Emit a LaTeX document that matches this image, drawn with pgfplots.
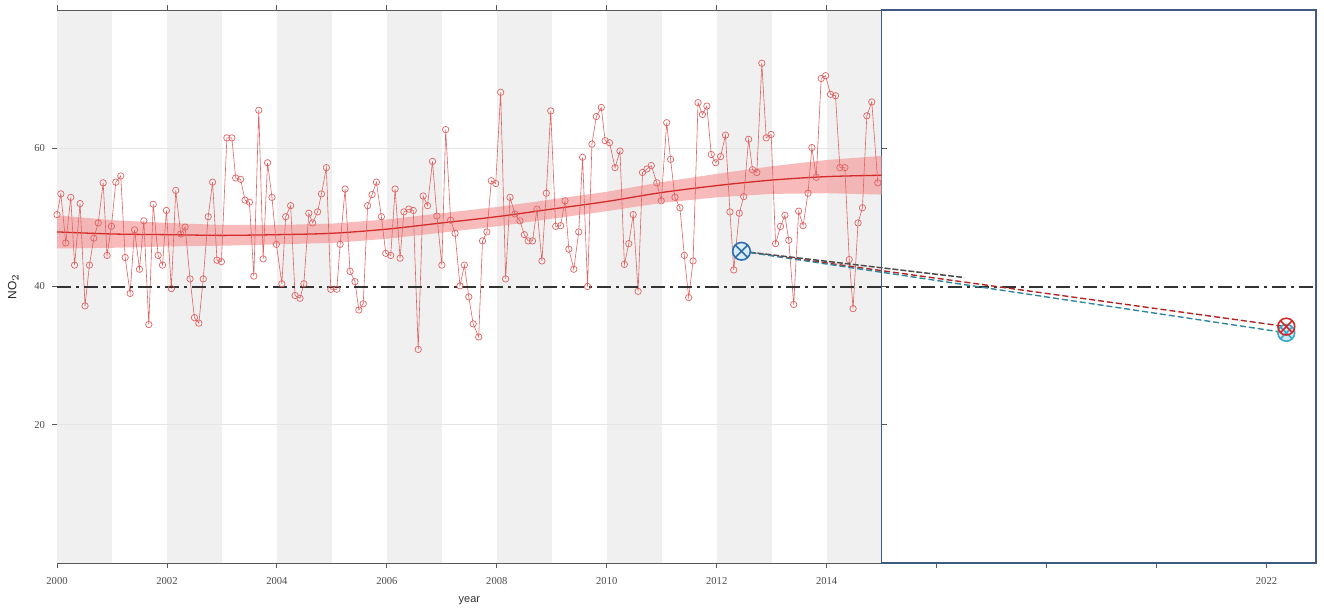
\documentclass[border=0pt]{standalone}
\usepackage{pgfplots}
\pgfplotsset{compat=1.18}
\usepackage{pgfplotstable}
\usepackage{fontspec}
\setmainfont{Liberation Serif}
\newfontfamily\labelfont{Liberation Sans}
\definecolor{bandgray}{HTML}{F0F0F0}
\definecolor{datared}{HTML}{E06262}
\definecolor{trendred}{HTML}{D42A2A}
\definecolor{bandpink}{HTML}{F5A3A3}
\definecolor{panelblue}{HTML}{3E5A80}
\definecolor{markblue}{HTML}{2F6FB0}
\definecolor{markcyan}{HTML}{3AA7C9}

\pgfplotstableread{
x y
2000.00 50.4
2000.07 53.4
2000.16 46.3
2000.25 52.9
2000.32 43.1
2000.42 52.0
2000.51 37.2
2000.59 43.1
2000.67 47.0
2000.75 49.2
2000.84 55.0
2000.91 44.5
2000.99 48.7
2001.07 55.1
2001.16 56.0
2001.24 44.2
2001.33 39.0
2001.41 48.2
2001.50 42.5
2001.58 49.5
2001.67 34.5
2001.75 51.9
2001.84 44.5
2001.92 43.1
2001.99 51.0
2002.08 39.7
2002.16 53.9
2002.25 47.6
2002.33 48.6
2002.42 41.1
2002.50 35.5
2002.58 34.7
2002.66 41.1
2002.75 50.1
2002.83 55.1
2002.91 43.8
2002.99 43.6
2003.09 61.5
2003.18 61.5
2003.25 55.7
2003.34 55.5
2003.42 52.5
2003.50 52.2
2003.58 41.5
2003.67 65.5
2003.75 44.0
2003.83 57.9
2003.91 52.9
2003.99 46.1
2004.09 40.4
2004.16 50.1
2004.25 51.7
2004.33 38.7
2004.42 38.3
2004.49 40.4
2004.58 50.6
2004.65 49.2
2004.74 50.8
2004.81 53.4
2004.90 57.2
2004.98 39.6
2005.09 39.6
2005.15 46.1
2005.24 54.1
2005.33 42.2
2005.42 40.7
2005.49 36.6
2005.57 37.5
2005.65 51.7
2005.73 53.3
2005.81 55.1
2005.90 50.1
2005.98 44.8
2006.07 44.5
2006.15 54.1
2006.24 44.1
2006.31 50.8
2006.40 51.2
2006.48 51.0
2006.57 30.9
2006.66 53.1
2006.74 51.7
2006.83 58.1
2006.91 50.2
2007.00 43.1
2007.07 62.7
2007.16 49.6
2007.24 47.7
2007.33 40.1
2007.41 43.1
2007.49 38.5
2007.57 34.6
2007.67 32.7
2007.74 46.6
2007.82 47.9
2007.90 55.3
2007.98 54.9
2008.07 68.1
2008.16 41.1
2008.24 52.9
2008.33 50.5
2008.42 49.5
2008.50 47.5
2008.57 46.6
2008.65 46.6
2008.73 51.2
2008.82 43.7
2008.90 53.5
2008.98 65.4
2009.07 48.7
2009.16 48.8
2009.24 52.4
2009.31 45.4
2009.40 42.5
2009.49 47.9
2009.56 58.7
2009.65 40.0
2009.73 60.6
2009.81 64.6
2009.90 65.9
2009.97 61.1
2010.05 60.8
2010.15 57.2
2010.24 59.6
2010.32 43.2
2010.40 46.2
2010.48 50.4
2010.57 39.3
2010.65 56.5
2010.73 57.0
2010.81 57.5
2010.91 55.0
2010.99 52.4
2011.09 63.7
2011.16 58.4
2011.24 52.9
2011.33 51.4
2011.41 44.5
2011.49 38.4
2011.57 43.7
2011.66 66.6
2011.74 64.9
2011.82 66.1
2011.90 59.1
2011.98 57.9
2012.07 58.8
2012.16 61.9
2012.24 50.8
2012.31 42.4
2012.41 50.6
2012.49 53.0
2012.58 61.3
2012.65 56.9
2012.73 56.5
2012.82 72.3
2012.90 61.5
2012.99 62.0
2013.07 46.2
2013.16 48.7
2013.24 50.3
2013.31 46.7
2013.40 37.4
2013.49 50.9
2013.57 48.8
2013.66 53.5
2013.73 60.1
2013.81 55.8
2013.90 70.1
2013.98 70.5
2014.07 67.8
2014.16 67.6
2014.24 57.2
2014.33 57.2
2014.41 43.9
2014.48 36.8
2014.57 49.2
2014.65 51.4
2014.73 64.7
2014.82 66.7
2014.93 55.0
}\monthly

\pgfplotstableread{
x y
2000 47.9
2001 47.6
2002 47.5
2003 47.4
2004 47.5
2005 47.7
2006 48.3
2007 49.2
2008 50.1
2009 51.2
2010 52.3
2011 53.6
2012 54.6
2013 55.4
2014 55.9
2015 56.1
}\trend

\pgfplotstableread{
x y
2000 50.3
2001 49.6
2002 49.2
2003 48.9
2004 48.9
2005 49.1
2006 49.7
2007 50.6
2008 51.5
2009 52.6
2010 53.7
2011 55.1
2012 56.3
2013 57.4
2014 58.3
2015 58.9
2015 53.3
2014 53.5
2013 53.4
2012 52.9
2011 52.1
2010 50.9
2009 49.8
2008 48.7
2007 47.8
2006 46.9
2005 46.3
2004 46.1
2003 45.9
2002 45.8
2001 45.6
2000 45.5
}\band

\begin{document}
\begin{tikzpicture}
\useasboundingbox (0,0) rectangle (662pt,303.5pt);
\begin{axis}[
  at={(28.5pt,22pt)}, anchor=south west,
  width=629.5pt, height=276.5pt, scale only axis,
  xmin=2000, xmax=2022.9, ymin=0, ymax=80,
  axis x line*=bottom, axis y line*=left,
  axis line style={draw=black!65, line width=0.45pt},
  tick align=outside,
  major tick length=2.5pt,
  tick style={draw=black!65, line width=0.45pt},
  xtick={2000,2002,2004,2006,2008,2010,2012,2014,2016,2018,2020,2022},
  xticklabels={2000,2002,2004,2006,2008,2010,2012,2014,,,,2022},
  ytick={20,40,60},
  yticklabels={20,40,60},
  ticklabel style={font=\fontsize{5.3}{6}\selectfont, text=black!70},
  xticklabel style={yshift=-1pt},
  ylabel={\labelfont NO$_2$},
  ylabel style={font=\fontsize{6}{7}\selectfont, text=black!85, yshift=1pt},
  clip=false,
]
% alternating year bands
\fill[bandgray] (axis cs:2000,0) rectangle (axis cs:2001,80);
\fill[bandgray] (axis cs:2002,0) rectangle (axis cs:2003,80);
\fill[bandgray] (axis cs:2004,0) rectangle (axis cs:2005,80);
\fill[bandgray] (axis cs:2006,0) rectangle (axis cs:2007,80);
\fill[bandgray] (axis cs:2008,0) rectangle (axis cs:2009,80);
\fill[bandgray] (axis cs:2010,0) rectangle (axis cs:2011,80);
\fill[bandgray] (axis cs:2012,0) rectangle (axis cs:2013,80);
\fill[bandgray] (axis cs:2014,0) rectangle (axis cs:2015,80);
% faint grid in left panel
\draw[black!10, line width=0.3pt] (axis cs:2000,20) -- (axis cs:2015,20);
\draw[black!10, line width=0.3pt] (axis cs:2000,60) -- (axis cs:2015,60);
% left panel top frame and ticks
\draw[black!65, line width=0.45pt] (axis cs:2000,80) -- (axis cs:2015,80);
\pgfplotsinvokeforeach{2000,2002,2004,2006,2008,2010,2012,2014}{
  \draw[black!65, line width=0.45pt] (axis cs:#1,80) -- ++(0pt,2.5pt);
}
% right panel box
\draw[panelblue, line width=0.8pt] (axis cs:2015,0) rectangle (axis cs:2022.9,80);
\pgfplotsinvokeforeach{20,40,60}{
  \draw[black!65, line width=0.45pt] (axis cs:2015,#1) -- ++(2.5pt,0pt);
}
% confidence band and trend
\addplot[fill=bandpink, fill opacity=0.75, draw=none] table[x=x,y=y] {\band} -- cycle;
\addplot[trendred, line width=0.65pt, smooth] table[x=x,y=y] {\trend};
% monthly data
\addplot[datared, line width=0.3pt, mark=o, mark size=1.6pt,
  mark options={datared, line width=0.35pt}] table[x=x,y=y] {\monthly};
% limit value
\draw[black!80, line width=1pt, dash pattern=on 7pt off 2.5pt on 1.5pt off 2.5pt]
  (axis cs:2000,40) -- (axis cs:2022.9,40);
% projection lines
\addplot[black!70, line width=0.75pt, dash pattern=on 3pt off 1pt] coordinates {(2012.45,45.1) (2016.5,41.3)};
\addplot[trendred!85!black, line width=0.7pt, dash pattern=on 3pt off 1.5pt] coordinates {(2012.45,45.1) (2022.36,34.2)};
\addplot[markcyan!80!black, line width=0.7pt, dash pattern=on 3pt off 1.5pt] coordinates {(2012.45,45.1) (2022.36,33.3)};
\addplot[only marks, mark=otimes*, mark size=4.2pt, mark options={draw=markcyan, fill=markcyan!25, line width=0.8pt}] coordinates {(2022.36,33.3)};
\addplot[only marks, mark=otimes, mark size=4.2pt, mark options={draw=trendred, line width=0.8pt}] coordinates {(2022.36,34.2)};
\addplot[only marks, mark=otimes*, mark size=4.4pt, mark options={draw=markblue, fill=markcyan!20, line width=0.8pt}] coordinates {(2012.45,45.1)};
% x label
\node[font=\labelfont\fontsize{5.5}{6}\selectfont, text=black!80] at (axis cs:2007.5,0) [yshift=-19pt] {year};
\end{axis}
\end{tikzpicture}
\end{document}
